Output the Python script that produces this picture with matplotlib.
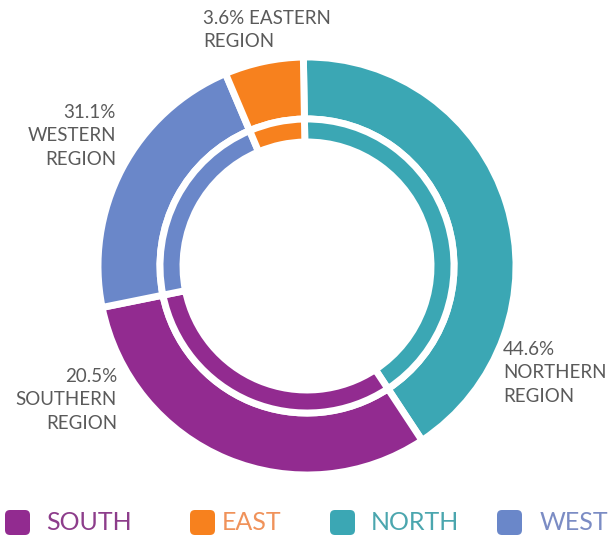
import matplotlib
matplotlib.use("Agg")
import matplotlib.pyplot as plt
from matplotlib.patches import FancyBboxPatch

plt.rcParams["font.family"] = ["Lato", "DejaVu Sans"]

# shares as drawn (clockwise from 12 o'clock)
regions = ["NORTH", "SOUTH", "WEST", "EAST"]
arc_shares = [41.0, 31.1, 21.8, 6.1]
colors = ["#3ba7b4", "#922b90", "#6a87c9", "#f7811e"]

# label texts printed on the chart
label_texts = {
    "EAST": "3.6% EASTERN\nREGION",
    "WEST": "31.1%\nWESTERN\nREGION",
    "SOUTH": "20.5%\nSOUTHERN\nREGION",
    "NORTH": "44.6%\nNORTHERN\nREGION",
}

legend_order = ["SOUTH", "EAST", "NORTH", "WEST"]
legend_text_colors = {"SOUTH": "#8d3d8b", "EAST": "#f0925a",
                      "NORTH": "#4ba6ae", "WEST": "#7b8cc4"}

W, H = 610, 537
fig = plt.figure(figsize=(W / 100, H / 100), dpi=100)
ax = fig.add_axes([0, 0, 1, 1])

cx, cy = 307, H - 266
lw = 5
ax.pie(arc_shares, colors=colors, startangle=91, counterclock=False,
       radius=209, center=(cx, cy),
       wedgeprops=dict(width=62, edgecolor="white", linewidth=lw))
ax.pie(arc_shares, colors=colors, startangle=91, counterclock=False,
       radius=147, center=(cx, cy),
       wedgeprops=dict(width=23, edgecolor="white", linewidth=lw))

ax.set_xlim(0, W)
ax.set_ylim(0, H)
ax.set_aspect("auto")
ax.axis("off")

lbl = dict(fontsize=13.5, color="#5a5a5a", linespacing=1.45, va="top")
ax.text(203, H - 10, label_texts["EAST"], ha="left", **lbl)
ax.text(116, H - 104, label_texts["WEST"], ha="right", multialignment="right", **lbl)
ax.text(117, H - 368, label_texts["SOUTH"], ha="right", multialignment="right", **lbl)
ax.text(503, H - 341, label_texts["NORTH"], ha="left", **lbl)

# legend row
sq_x = [5, 190, 330, 497]
txt_x = [46, 222, 371, 540]
ly = H - 523
color_of = dict(zip(regions, colors))
for name, sx, tx in zip(legend_order, sq_x, txt_x):
    ax.add_patch(FancyBboxPatch((sx + 3, ly - 9), 19, 19,
                                boxstyle="round,pad=3,rounding_size=5",
                                facecolor=color_of[name], edgecolor="none"))
    ax.text(tx, ly, name, fontsize=18, color=legend_text_colors[name],
            ha="left", va="center")

fig.savefig("out.png", dpi=100)
